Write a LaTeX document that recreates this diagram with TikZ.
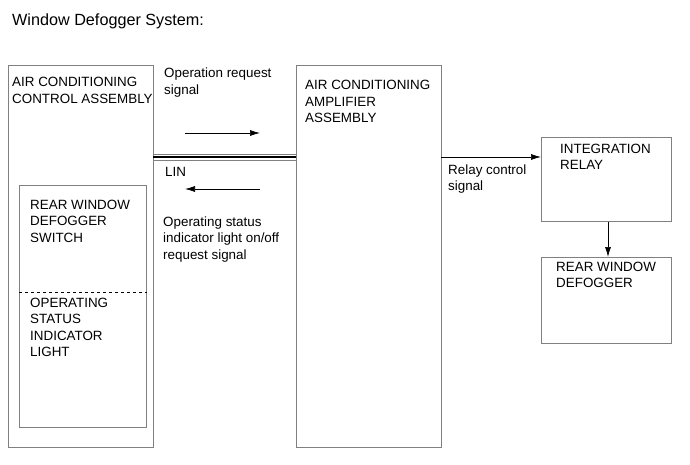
\documentclass[tikz,border=0pt]{standalone}
\usepackage{fontspec}
\setmainfont{Liberation Sans}
\usetikzlibrary{arrows.meta,positioning,calc}

\tikzset{
  box/.style={draw=black!50,line width=1pt,inner sep=0pt,anchor=north west},
  lbl/.style={anchor=base west,align=left,inner sep=0pt,
    font=\fontsize{13.4}{16.5}\selectfont},
  sig/.style={line width=0.7pt,-{Latex[length=10pt,width=6pt]}}
}

\begin{document}
\begin{tikzpicture}[x=1pt,y=-1pt]
  \useasboundingbox (0,0) rectangle (690,465);

  % title
  \node[lbl,font=\fontsize{16.2}{19}\selectfont] (title) at (12,26) {Window Defogger System:};

  % boxes
  \node[box,minimum width=145pt,minimum height=382pt] (acc) at (8,65) {};
  \node[box,minimum width=127pt,minimum height=242pt] (sw) at (19,185) {};
  \node[box,minimum width=145pt,minimum height=382pt] (amp) at (296,65) {};
  \node[box,minimum width=130pt,minimum height=84pt] (relay) at (541,137) {};
  \node[box,minimum width=130pt,minimum height=86pt] (defog) at (541,257) {};

  % dashed split of the switch box
  \coordinate (swl) at (19,292);
  \draw[dashed,line width=0.6pt] (swl) -- (swl -| sw.east);

  % box labels (base = last line)
  \node[lbl] (acctxt) at (12,103.5) {AIR CONDITIONING\\CONTROL ASSEMBLY};
  \node[lbl] (swtxt) at (30,242) {REAR WINDOW\\DEFOGGER\\SWITCH};
  \node[lbl] (lighttxt) at (30,356.5) {OPERATING\\STATUS\\INDICATOR\\LIGHT};
  \node[lbl] (amptxt) at (305,123) {AIR CONDITIONING\\AMPLIFIER\\ASSEMBLY};
  \node[lbl] (relaytxt) at (560,169.5) {INTEGRATION\\RELAY};
  \node[lbl] (defogtxt) at (556,287.5) {REAR WINDOW\\DEFOGGER};

  % LIN bus
  \coordinate (lin1) at (153,154);
  \coordinate (lin2) at (153,157);
  \coordinate (lin3) at (153,160);
  \draw[black!50,line width=0.8pt] (lin1) -- (lin1 -| amp.west);
  \draw[line width=1.4pt] (lin2) -- (lin2 -| amp.west);
  \draw[black!50,line width=0.8pt] (lin3) -- (lin3 -| amp.west);
  \node[lbl] (lin) at (165,176) {LIN};

  % signals between the assemblies
  \coordinate (reqa) at (185,133);
  \coordinate (reqb) at (260,133);
  \coordinate (stsa) at (260,189);
  \coordinate (stsb) at (185,189);
  \draw[sig] (reqa) -- (reqb);
  \draw[sig] (stsa) -- (stsb);
  \node[lbl] (reqtxt) at (164,94.5) {Operation request\\signal};
  \node[lbl] (ststxt) at (163,259) {Operating status\\indicator light on/off\\request signal};

  % relay control
  \coordinate (rc) at (441,157);
  \draw[sig] (rc) -- (rc -| relay.west);
  \node[lbl] (rctxt) at (448,190.5) {Relay control\\signal};
  \draw[sig] (relay.south -| 608,0) -- (defog.north -| 608,0);
\end{tikzpicture}
\end{document}
